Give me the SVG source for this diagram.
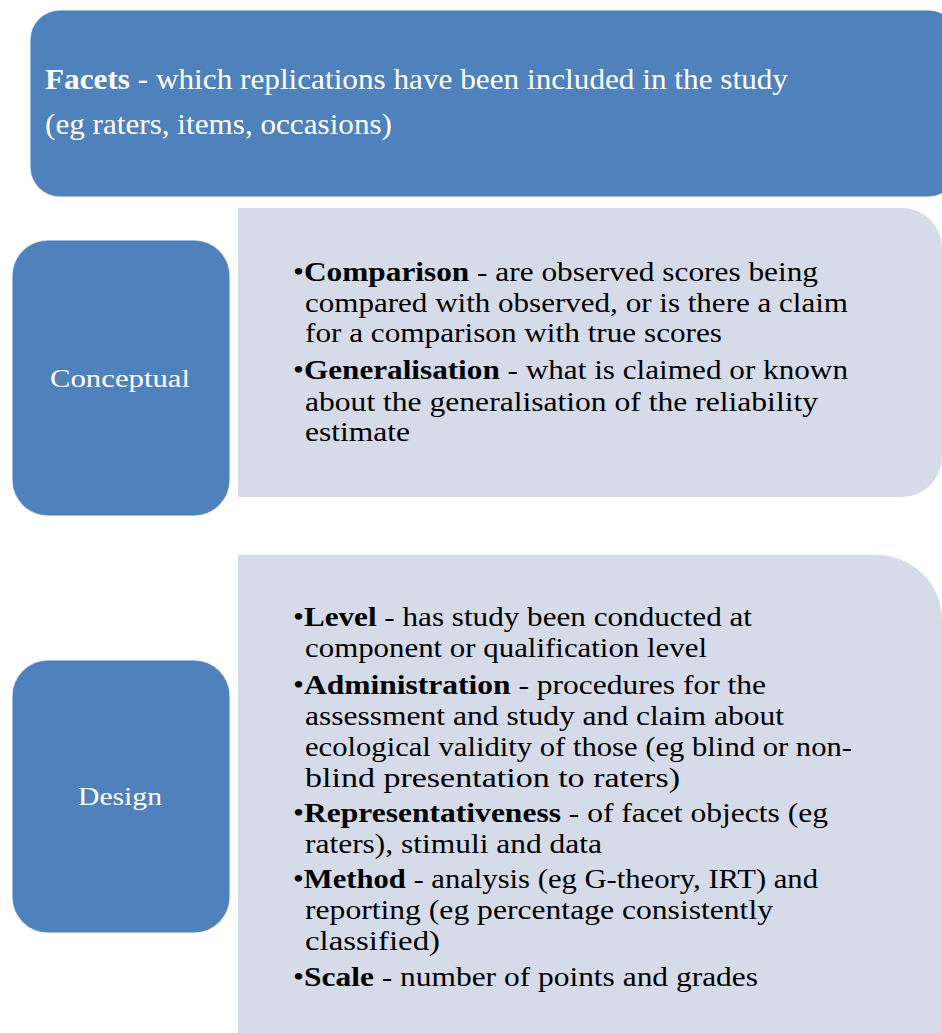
<svg xmlns="http://www.w3.org/2000/svg" width="942" height="1033" viewBox="0 0 942 1033">
<style>
.blue{fill:#4f81bd;stroke:#ffffff;stroke-width:1.5;stroke-opacity:0.6}
.light{fill:#d5dbe8}
.t{font-family:"Liberation Serif","DejaVu Serif",serif;font-size:28px;fill:#000}
.w{font-family:"Liberation Serif","DejaVu Serif",serif;fill:#ffffff}
.b{font-weight:bold}
</style>
<rect width="942" height="1033" fill="#ffffff"/>
<g id="facets">
<rect class="blue" x="30" y="10" width="928" height="187" rx="30"/>
<text class="w" font-size="29" x="45" y="89" textLength="743" lengthAdjust="spacingAndGlyphs"><tspan class="b">Facets</tspan> - which replications have been included in the study</text>
<text class="w" font-size="29" x="45" y="134" textLength="347" lengthAdjust="spacingAndGlyphs">(eg raters, items, occasions)</text>
</g>
<g id="conceptual-content">
<path class="light" d="M238,208 H902 A40,40 0 0 1 942,248 V457 A40,40 0 0 1 902,497 H238 Z"/>
<text class="t" x="293" y="281" textLength="525" lengthAdjust="spacingAndGlyphs">•<tspan class="b">Comparison</tspan> - are observed scores being</text>
<text class="t" x="305" y="312" textLength="543" lengthAdjust="spacingAndGlyphs">compared with observed, or is there a claim</text>
<text class="t" x="305" y="342" textLength="417" lengthAdjust="spacingAndGlyphs">for a comparison with true scores</text>
<text class="t" x="293" y="379" textLength="555" lengthAdjust="spacingAndGlyphs">•<tspan class="b">Generalisation</tspan> - what is claimed or known</text>
<text class="t" x="305" y="411" textLength="513" lengthAdjust="spacingAndGlyphs">about the generalisation of  the reliability</text>
<text class="t" x="305" y="441" textLength="105" lengthAdjust="spacingAndGlyphs">estimate</text>
</g>
<g id="conceptual">
<rect class="blue" x="12" y="240" width="218" height="276" rx="36"/>
<text class="w" font-size="26" x="120" y="387" text-anchor="middle" textLength="140" lengthAdjust="spacingAndGlyphs">Conceptual</text>
</g>
<g id="design-content">
<path class="light" d="M238,555 H877 A65,65 0 0 1 942,620 V1033 H238 Z"/>
<text class="t" x="293" y="626" textLength="459" lengthAdjust="spacingAndGlyphs">•<tspan class="b">Level</tspan> - has study been conducted at</text>
<text class="t" x="305" y="657" textLength="402" lengthAdjust="spacingAndGlyphs">component or qualification level</text>
<text class="t" x="293" y="694" textLength="473" lengthAdjust="spacingAndGlyphs">•<tspan class="b">Administration</tspan> - procedures for the</text>
<text class="t" x="305" y="725" textLength="479" lengthAdjust="spacingAndGlyphs">assessment and study and claim about</text>
<text class="t" x="305" y="756" textLength="547" lengthAdjust="spacingAndGlyphs">ecological validity of those (eg blind or non-</text>
<text class="t" x="305" y="787" textLength="375" lengthAdjust="spacingAndGlyphs">blind presentation to raters)</text>
<text class="t" x="293" y="822" textLength="535" lengthAdjust="spacingAndGlyphs">•<tspan class="b">Representativeness</tspan> - of facet objects (eg</text>
<text class="t" x="305" y="853" textLength="297" lengthAdjust="spacingAndGlyphs">raters), stimuli and data</text>
<text class="t" x="293" y="888" textLength="525" lengthAdjust="spacingAndGlyphs">•<tspan class="b">Method</tspan> - analysis (eg G-theory, IRT) and</text>
<text class="t" x="305" y="919" textLength="468" lengthAdjust="spacingAndGlyphs">reporting (eg percentage consistently</text>
<text class="t" x="305" y="950" textLength="135" lengthAdjust="spacingAndGlyphs">classified)</text>
<text class="t" x="293" y="986" textLength="465" lengthAdjust="spacingAndGlyphs">•<tspan class="b">Scale</tspan> - number of points and grades</text>
</g>
<g id="design">
<rect class="blue" x="12" y="660" width="218" height="273" rx="36"/>
<text class="w" font-size="26" x="120" y="805" text-anchor="middle" textLength="84" lengthAdjust="spacingAndGlyphs">Design</text>
</g>
<g id="connectors"></g>
</svg>
